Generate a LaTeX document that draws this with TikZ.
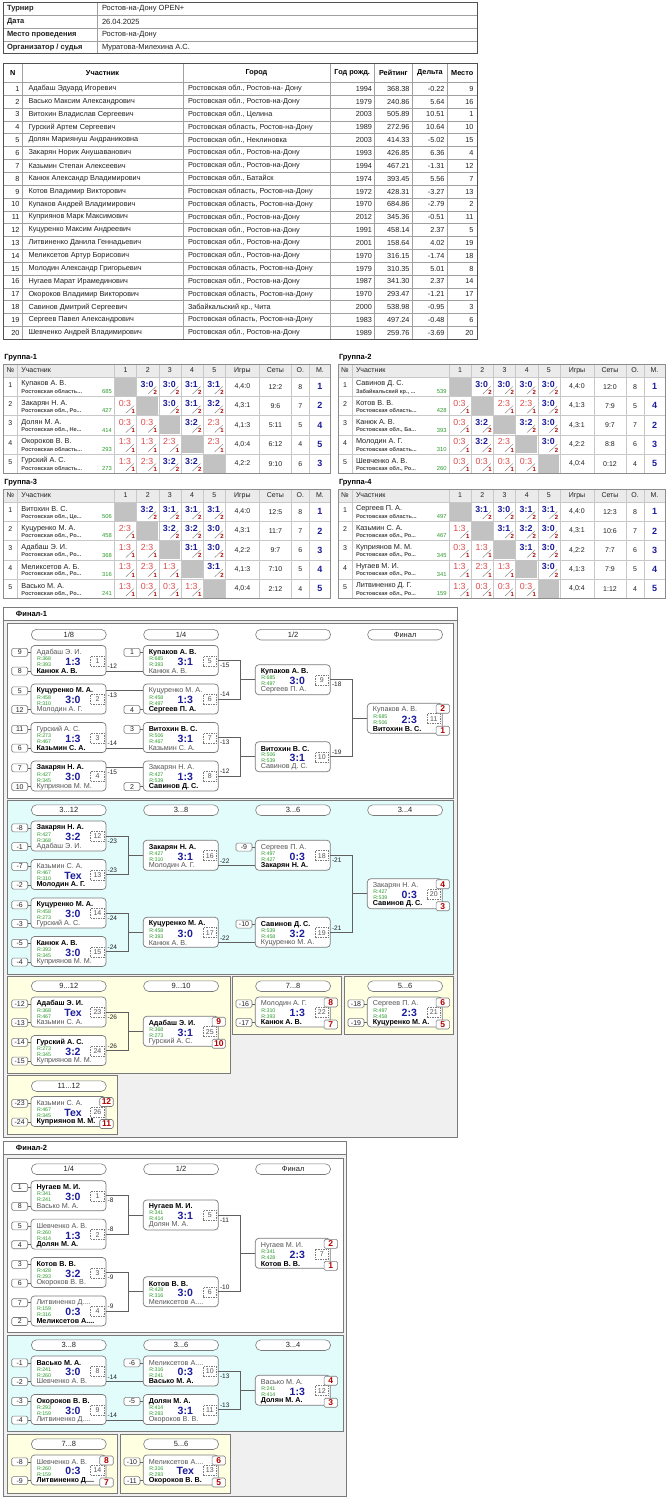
\documentclass[tikz,border=0pt]{standalone}
\usepackage{fontspec}
\setmainfont{Liberation Sans}
\usetikzlibrary{calc}
\definecolor{bord}{HTML}{7A7A7A}
\definecolor{tline}{HTML}{A0A0A0}
\definecolor{touter}{HTML}{505050}
\definecolor{hdrbg}{HTML}{EBEBEB}
\definecolor{gline}{HTML}{C8C8C8}
\definecolor{diag}{HTML}{C2C2C2}
\definecolor{winblue}{HTML}{1C1C9C}
\definecolor{lossred}{HTML}{DD4A4A}
\definecolor{dred}{HTML}{B00000}
\definecolor{rgreen}{HTML}{2A9A2A}
\definecolor{lgray}{HTML}{555555}
\definecolor{tdark}{HTML}{222222}
\definecolor{tcity}{HTML}{4A4A4A}
\definecolor{cyanbg}{HTML}{E2FCFC}
\definecolor{yelbg}{HTML}{FFFFE2}
\definecolor{panelbg}{HTML}{F0F0F0}
\definecolor{connc}{HTML}{606060}
\newcommand\fs[1]{\fontsize{#1}{#1}\selectfont}
\newcommand\Wn[1]{\textbf{#1}}
\newcommand\Ln[1]{\textcolor{lgray}{#1}}
\tikzset{
 txt/.style={inner sep=0pt, outer sep=0pt},
 mbox/.style={draw=bord, fill=white, rounded corners=3.5pt, line width=0.7pt, minimum width=75pt, minimum height=30pt, inner sep=0pt, outer sep=0pt, anchor=north west},
 nbox/.style={draw=bord, dash pattern=on 1.5pt off 1pt, line width=0.6pt, minimum width=13.5pt, minimum height=10pt, inner sep=0pt, font=\fs{7}, text=lgray},
 sbox/.style={draw=bord, fill=white, rounded corners=1.5pt, line width=0.6pt, minimum width=16pt, minimum height=8pt, inner sep=0pt, outer sep=0pt, font=\fs{7}, text=tdark},
 pbox/.style={draw=bord, fill=white, rounded corners=1.5pt, line width=0.6pt, minimum width=13.5pt, minimum height=9pt, inner sep=0pt, font=\bfseries\fs{8.5}, text=dred},
 pillbox/.style={draw=bord, fill=white, rounded corners=5.3pt, line width=0.6pt, minimum width=75pt, minimum height=10.7pt, inner sep=0pt, font=\fs{7.5}, text=tdark, anchor=north west},
 conn/.style={draw=connc, line width=0.8pt},
 lab/.style={inner sep=0pt, anchor=west, font=\fs{6.5}, text=tdark},
 gl/.style={draw=gline, line width=0.5pt},
 slash/.style={draw=gray, line width=0.45pt},
 sec/.style={draw=bord, line width=0.8pt},
}
% match box: id X Y num score topname topR botname botR
\newcommand\mtch[9]{%
 \node[mbox] (#1) at (#2,#3) {};
 \node[txt,anchor=west,font=\fs{7.2},text=black] (#1-tn) at ({#2+5.5},{#3+7}) {#6};
 \node[txt,anchor=west,font=\fs{5.3},text=rgreen] (#1-tr) at ({#2+6},{#3+13.2}) {R:#7};
 \node[txt,anchor=west,font=\fs{5.3},text=rgreen] (#1-br) at ({#2+6},{#3+19.2}) {R:#9};
 \node[txt,anchor=west,font=\fs{7.2},text=black] (#1-bn) at ({#2+5.5},{#3+25.3}) {#8};
 \node[txt,font=\bfseries\fs{10.5},text=winblue] (#1-sc) at ({#2+42},{#3+16.3}) {#5};
 \node[nbox] (#1-no) at ({#2+66.5},{#3+15.5}) {#4};
 \coordinate (#1-tw) at (#2,{#3+6.5});
 \coordinate (#1-bw) at (#2,{#3+25.5});
 \coordinate (#1-te) at ({#2+75},{#3+6.5});
 \coordinate (#1-be) at ({#2+75},{#3+25.5});
}
\newcommand\seedt[2]{\node[sbox] (#1-st) at ($(#1.north west)+(-11.3,6.8)$) {#2};
 \draw[conn,line width=0.6pt] (#1-st.east) -- (#1-st.east -| #1.west);}
\newcommand\seedb[2]{\node[sbox] (#1-sb) at ($(#1.north west)+(-11.3,25.6)$) {#2};
 \draw[conn,line width=0.6pt] (#1-sb.east) -- (#1-sb.east -| #1.west);}
\newcommand\places[3]{\node[pbox] (#1-pt) at ($(#1.north east)+(0.5,5.5)$) {#2};
 \node[pbox] (#1-pb) at ($(#1.north east)+(0.5,27.5)$) {#3};}
\newcommand\pill[4]{\node[pillbox] (#1) at (#2,#3) {#4};}
\newcommand\strb[3]{\draw[conn] (#1-be) -- (#2-bw);
 \node[lab] (#1-lab) at ($(#1-be)+(1.5,-4.5)$) {#3};}
\newcommand\strt[3]{\draw[conn] (#1-te) -- (#2-tw);
 \node[lab] (#1-lab) at ($(#1-te)+(1.5,4.5)$) {#3};}
\newcommand\brk[5]{\draw[conn] (#1.east) -- ++(22,0) coordinate (#1-k) |- (#2.east);
 \draw[conn] (#3.west) -- (#3.west -| #1-k);
 \node[lab] (#1-lab) at ($(#1.east)+(1.5,5)$) {#4};
 \node[lab] (#2-lab) at ($(#2.east)+(1.5,-4.5)$) {#5};}
% group tables
\newcommand\grp[3]{%
 \node[txt,anchor=west,font=\bfseries\fs{7.5}] (g#1title) at ({#2+1},{#3-6.5}) {Группа-#1};
 \fill[hdrbg] (#2,#3) rectangle ({#2+327},{#3+13});
 \foreach \xx in {14,111,133.2,155.4,177.6,199.8,222,256,288,306}
   \draw[gl] ({#2+\xx},#3) -- ({#2+\xx},{#3+109.25});
 \foreach \kk in {0,...,4}
   \draw[gl] (#2,{#3+13+19.25*\kk}) -- ({#2+327},{#3+13+19.25*\kk});
 \draw[draw=gline!70!black, line width=0.6pt] (#2,#3) rectangle ({#2+327},{#3+109.25});
 \node[txt,font=\fs{7},text=tdark] (g#1h0) at ({#2+7},{#3+6.5}) {№};
 \node[txt,anchor=west,font=\fs{7},text=tdark] (g#1h1) at ({#2+18},{#3+6.5}) {Участник};
 \foreach \cc in {1,...,5}
   \node[txt,font=\fs{7},text=tdark] (g#1hc\cc) at ({#2+111+22.2*(\cc-1)+11.1},{#3+6.5}) {\cc};
 \node[txt,font=\fs{7},text=tdark] (g#1h2) at ({#2+239},{#3+6.5}) {Игры};
 \node[txt,font=\fs{7},text=tdark] (g#1h3) at ({#2+272},{#3+6.5}) {Сеты};
 \node[txt,font=\fs{7},text=tdark] (g#1h4) at ({#2+297},{#3+6.5}) {О.};
 \node[txt,font=\fs{7},text=tdark] (g#1h5) at ({#2+316.5},{#3+6.5}) {М.};
}
\newcommand\setrow[3]{\def\GX{#1}\def\GY{#2}\def\GN{#3}}
\newcommand\grow[8]{%
 \node[txt,font=\fs{7},text=tdark] (\GN n) at ({\GX+7},{\GY+8}) {#1};
 \node[txt,anchor=west,font=\fs{7.3},text=tdark] (\GN name) at ({\GX+18},{\GY+7}) {#2};
 \node[txt,anchor=west,font=\bfseries\fs{5.6},text=tcity] (\GN city) at ({\GX+18},{\GY+14.5}) {#3};
 \node[txt,anchor=east,font=\fs{5.8},text=rgreen] (\GN rat) at ({\GX+108.5},{\GY+14.5}) {#4};
 \node[txt,font=\fs{7},text=tdark] (\GN games) at ({\GX+239},{\GY+9.6}) {#5};
 \node[txt,font=\fs{7},text=tdark] (\GN sets) at ({\GX+272},{\GY+9.6}) {#6};
 \node[txt,font=\fs{7},text=tdark] (\GN pts) at ({\GX+297},{\GY+9.6}) {#7};
 \node[txt,font=\bfseries\fs{9},text=winblue] (\GN pl) at ({\GX+316.5},{\GY+9.6}) {#8};
}
\newcommand\gw[2]{%
 \node[txt,font=\bfseries\fs{8.8},text=winblue] (\GN c#1s) at ({\GX+111+22.2*(#1-1)+10.5},{\GY+7}) {#2};
 \draw[slash] ({\GX+111+22.2*(#1-1)+11.5},{\GY+17}) -- ({\GX+111+22.2*(#1-1)+19.5},{\GY+9.5});
 \node[txt,font=\bfseries\fs{6},text=dred] (\GN c#1d) at ({\GX+111+22.2*(#1-1)+18.8},{\GY+15.3}) {2};}
\newcommand\gl[2]{%
 \node[txt,font=\fs{8.8},text=lossred] (\GN c#1s) at ({\GX+111+22.2*(#1-1)+10.5},{\GY+7}) {#2};
 \draw[slash] ({\GX+111+22.2*(#1-1)+11.5},{\GY+17}) -- ({\GX+111+22.2*(#1-1)+19.5},{\GY+9.5});
 \node[txt,font=\bfseries\fs{6},text=dred] (\GN c#1d) at ({\GX+111+22.2*(#1-1)+18.8},{\GY+15.3}) {1};}
\newcommand\gd[1]{\fill[diag] ({\GX+111+22.2*(#1-1)+0.7},{\GY+0.7}) rectangle ({\GX+111+22.2*#1-0.7},{\GY+18.55});}
% participants
\newcommand\prow[7]{%
 \pgfmathsetmacro\py{82.3+12.85*(#1-0.5)}
 \node[txt,anchor=east,font=\fs{7.3},text=tdark] (p#1n) at (19.5,\py) {#1};
 \node[txt,anchor=west,font=\fs{7.3},text=tdark] (p#1name) at (28.5,\py) {#2};
 \node[txt,anchor=west,font=\fs{7.3},text=tdark] (p#1city) at (188,\py) {#3};
 \node[txt,anchor=east,font=\fs{7.3},text=tdark] (p#1year) at (372,\py) {#4};
 \node[txt,anchor=east,font=\fs{7.3},text=tdark] (p#1rat) at (409.5,\py) {#5};
 \node[txt,anchor=east,font=\fs{7.3},text=tdark] (p#1del) at (444.5,\py) {#6};
 \node[txt,anchor=east,font=\fs{7.3},text=tdark] (p#1pl) at (473.5,\py) {#7};
}
\newcommand\hrow[3]{%
 \pgfmathsetmacro\hy{2.5+12.8*(#1-0.5)}
 \node[txt,anchor=west,font=\bfseries\fs{7.5},text=tdark] (h#1a) at (7,\hy) {#2};
 \node[txt,anchor=west,font=\fs{7.5},text=tdark] (h#1b) at (102,\hy) {#3};
}
\begin{document}
\begin{tikzpicture}[x=1pt,y=-1pt]
\useasboundingbox (0,0) rectangle (670,1500);
\fill[white] (0,0) rectangle (670,1500);
% ---------- header table
\foreach \kk in {1,2,3} \draw[draw=tline,line width=0.6pt] (3.4,{2.5+12.8*\kk}) -- (477,{2.5+12.8*\kk});
\draw[draw=tline,line width=0.6pt] (97.4,2.5) -- (97.4,53.7);
\draw[draw=touter,line width=0.9pt] (3.4,2.5) rectangle (477,53.7);
\hrow{1}{Турнир}{Ростов-на-Дону OPEN+}
\hrow{2}{Дата}{26.04.2025}
\hrow{3}{Место проведения}{Ростов-на-Дону}
\hrow{4}{Организатор / судья}{Муратова-Милехина А.С.}
% ---------- participants table
\foreach \xx in {22.2,182.9,329.9,374.4,412.4,447.4} \draw[draw=tline,line width=0.6pt] (\xx,63.3) -- (\xx,339.3);
\foreach \kk in {0,...,19} \draw[draw=tline,line width=0.6pt] (3.4,{82.3+12.85*\kk}) -- (477,{82.3+12.85*\kk});
\draw[draw=touter,line width=0.9pt] (3.4,63.3) rectangle (477,339.3);
\node[txt,font=\bfseries\fs{7.3}] (ph1) at (12.8,72.8) {N};
\node[txt,font=\bfseries\fs{7.3}] (ph2) at (102.5,72.8) {Участник};
\node[txt,font=\bfseries\fs{7.3}] (ph3) at (256.4,72.8) {Город};
\node[txt,font=\bfseries\fs{7.3}] (ph4) at (352.2,72.8) {Год рожд.};
\node[txt,font=\bfseries\fs{7.3}] (ph5) at (393.4,72.8) {Рейтинг};
\node[txt,font=\bfseries\fs{7.3}] (ph6) at (429.9,72.8) {Дельта};
\node[txt,font=\bfseries\fs{7.3}] (ph7) at (462.2,72.8) {Место};
\prow{1}{Адабаш Эдуард Игоревич}{Ростовская обл., Ростов-на- Дону}{1994}{368.38}{-0.22}{9}
\prow{2}{Васько Максим Александрович}{Ростовская обл., Ростов-на-Дону}{1979}{240.86}{5.64}{16}
\prow{3}{Витохин Владислав Сергеевич}{Ростовская обл., Целина}{2003}{505.89}{10.51}{1}
\prow{4}{Гурский Артем Сергеевич}{Ростовская область, Ростов-на-Дону}{1989}{272.96}{10.64}{10}
\prow{5}{Долян Мариянуш Андраниковна}{Ростовская обл., Неклиновка}{2003}{414.33}{-5.02}{15}
\prow{6}{Закарян Норик Анушаванович}{Ростовская обл., Ростов-на-Дону}{1993}{426.85}{6.36}{4}
\prow{7}{Казьмин Степан Алексеевич}{Ростовская обл., Ростов-на-Дону}{1994}{467.21}{-1.31}{12}
\prow{8}{Канюк Александр Владимирович}{Ростовская обл., Батайск}{1974}{393.45}{5.56}{7}
\prow{9}{Котов Владимир Викторович}{Ростовская область, Ростов-на-Дону}{1972}{428.31}{-3.27}{13}
\prow{10}{Купаков Андрей Владимирович}{Ростовская область, Ростов-на-Дону}{1970}{684.86}{-2.79}{2}
\prow{11}{Куприянов Марк Максимович}{Ростовская обл., Ростов-на-Дону}{2012}{345.36}{-0.51}{11}
\prow{12}{Куцуренко Максим Андреевич}{Ростовская обл., Ростов-на-Дону}{1991}{458.14}{2.37}{5}
\prow{13}{Литвиненко Данила Геннадьевич}{Ростовская обл., Ростов-на-Дону}{2001}{158.64}{4.02}{19}
\prow{14}{Меликсетов Артур Борисович}{Ростовская обл., Ростов-на-Дону}{1970}{316.15}{-1.74}{18}
\prow{15}{Молодин Александр Григорьевич}{Ростовская область, Ростов-на-Дону}{1979}{310.35}{5.01}{8}
\prow{16}{Нугаев Марат Ирамединович}{Ростовская обл., Ростов-на-Дону}{1987}{341.30}{2.37}{14}
\prow{17}{Окороков Владимир Викторович}{Ростовская область, Ростов-на-Дону}{1970}{293.47}{-1.21}{17}
\prow{18}{Савинов Дмитрий Сергеевич}{Забайкальский кр., Чита}{2000}{538.98}{-0.95}{3}
\prow{19}{Сергеев Павел Александрович}{Ростовская область, Ростов-на-Дону}{1983}{497.24}{-0.48}{6}
\prow{20}{Шевченко Андрей Владимирович}{Ростовская обл., Ростов-на-Дону}{1989}{259.76}{-3.69}{20}
% ---------- groups
\grp{1}{3.4}{364}
\setrow{3.4}{377}{g1r1}\grow{1}{Купаков А. В.}{Ростовская область...}{685}{4,4:0}{12:2}{8}{1}\gd{1}\gw{2}{3:0}\gw{3}{3:0}\gw{4}{3:1}\gw{5}{3:1}
\setrow{3.4}{396.25}{g1r2}\grow{2}{Закарян Н. А.}{Ростовская обл., Ро...}{427}{4,3:1}{9:6}{7}{2}\gl{1}{0:3}\gd{2}\gw{3}{3:0}\gw{4}{3:1}\gw{5}{3:2}
\setrow{3.4}{415.5}{g1r3}\grow{3}{Долян М. А.}{Ростовская обл., Не...}{414}{4,1:3}{5:11}{5}{4}\gl{1}{0:3}\gl{2}{0:3}\gd{3}\gw{4}{3:2}\gl{5}{2:3}
\setrow{3.4}{434.75}{g1r4}\grow{4}{Окороков В. В.}{Ростовская область...}{293}{4,0:4}{6:12}{4}{5}\gl{1}{1:3}\gl{2}{1:3}\gl{3}{2:3}\gd{4}\gl{5}{2:3}
\setrow{3.4}{454}{g1r5}\grow{5}{Гурский А. С.}{Ростовская область...}{273}{4,2:2}{9:10}{6}{3}\gl{1}{1:3}\gl{2}{2:3}\gw{3}{3:2}\gw{4}{3:2}\gd{5}
\grp{2}{338}{364}
\setrow{338}{377}{g2r1}\grow{1}{Савинов Д. С.}{Забайкальский кр., ...}{539}{4,4:0}{12:0}{8}{1}\gd{1}\gw{2}{3:0}\gw{3}{3:0}\gw{4}{3:0}\gw{5}{3:0}
\setrow{338}{396.25}{g2r2}\grow{2}{Котов В. В.}{Ростовская область...}{428}{4,1:3}{7:9}{5}{4}\gl{1}{0:3}\gd{2}\gl{3}{2:3}\gl{4}{2:3}\gw{5}{3:0}
\setrow{338}{415.5}{g2r3}\grow{3}{Канюк А. В.}{Ростовская обл., Ба...}{393}{4,3:1}{9:7}{7}{2}\gl{1}{0:3}\gw{2}{3:2}\gd{3}\gw{4}{3:2}\gw{5}{3:0}
\setrow{338}{434.75}{g2r4}\grow{4}{Молодин А. Г.}{Ростовская область...}{310}{4,2:2}{8:8}{6}{3}\gl{1}{0:3}\gw{2}{3:2}\gl{3}{2:3}\gd{4}\gw{5}{3:0}
\setrow{338}{454}{g2r5}\grow{5}{Шевченко А. В.}{Ростовская обл., Ро...}{260}{4,0:4}{0:12}{4}{5}\gl{1}{0:3}\gl{2}{0:3}\gl{3}{0:3}\gl{4}{0:3}\gd{5}
\grp{3}{3.4}{489}
\setrow{3.4}{502}{g3r1}\grow{1}{Витохин В. С.}{Ростовская обл., Це...}{506}{4,4:0}{12:5}{8}{1}\gd{1}\gw{2}{3:2}\gw{3}{3:1}\gw{4}{3:1}\gw{5}{3:1}
\setrow{3.4}{521.25}{g3r2}\grow{2}{Куцуренко М. А.}{Ростовская обл., Ро...}{458}{4,3:1}{11:7}{7}{2}\gl{1}{2:3}\gd{2}\gw{3}{3:2}\gw{4}{3:2}\gw{5}{3:0}
\setrow{3.4}{540.5}{g3r3}\grow{3}{Адабаш Э. И.}{Ростовская обл., Ро...}{368}{4,2:2}{9:7}{6}{3}\gl{1}{1:3}\gl{2}{2:3}\gd{3}\gw{4}{3:1}\gw{5}{3:0}
\setrow{3.4}{559.75}{g3r4}\grow{4}{Меликсетов А. Б.}{Ростовская обл., Ро...}{316}{4,1:3}{7:10}{5}{4}\gl{1}{1:3}\gl{2}{2:3}\gl{3}{1:3}\gd{4}\gw{5}{3:1}
\setrow{3.4}{579}{g3r5}\grow{5}{Васько М. А.}{Ростовская обл., Ро...}{241}{4,0:4}{2:12}{4}{5}\gl{1}{1:3}\gl{2}{0:3}\gl{3}{0:3}\gl{4}{1:3}\gd{5}
\grp{4}{338}{489}
\setrow{338}{502}{g4r1}\grow{1}{Сергеев П. А.}{Ростовская область...}{497}{4,4:0}{12:3}{8}{1}\gd{1}\gw{2}{3:1}\gw{3}{3:0}\gw{4}{3:1}\gw{5}{3:1}
\setrow{338}{521.25}{g4r2}\grow{2}{Казьмин С. А.}{Ростовская обл., Ро...}{467}{4,3:1}{10:6}{7}{2}\gl{1}{1:3}\gd{2}\gw{3}{3:1}\gw{4}{3:2}\gw{5}{3:0}
\setrow{338}{540.5}{g4r3}\grow{3}{Куприянов М. М.}{Ростовская обл., Ро...}{345}{4,2:2}{7:7}{6}{3}\gl{1}{0:3}\gl{2}{1:3}\gd{3}\gw{4}{3:1}\gw{5}{3:0}
\setrow{338}{559.75}{g4r4}\grow{4}{Нугаев М. И.}{Ростовская обл., Ро...}{341}{4,1:3}{7:9}{5}{4}\gl{1}{1:3}\gl{2}{2:3}\gl{3}{1:3}\gd{4}\gw{5}{3:0}
\setrow{338}{579}{g4r5}\grow{5}{Литвиненко Д. Г.}{Ростовская обл., Ро...}{159}{4,0:4}{1:12}{4}{5}\gl{1}{1:3}\gl{2}{0:3}\gl{3}{0:3}\gl{4}{0:3}\gd{5}
% ---------- Final-1 frames
\draw[sec,fill=panelbg] (3,607) rectangle (457,1137);
\draw[sec,fill=white] (3,607) rectangle (457,620.5);
\node[txt,anchor=west,font=\bfseries\fs{7.5}] (f1title) at (16,613.8) {Финал-1};
\draw[sec,fill=white] (7.3,623.7) rectangle (453.5,798);
\draw[sec,fill=cyanbg] (7.3,800.7) rectangle (453.5,974);
\draw[sec,fill=yelbg] (7.3,976.3) rectangle (230,1073);
\draw[sec,fill=yelbg] (232.3,976.3) rectangle (341.7,1034.7);
\draw[sec,fill=yelbg] (344.3,976.3) rectangle (453.5,1034.7);
\draw[sec,fill=yelbg] (7.3,1075.3) rectangle (117.7,1134.7);
% section 1
\pill{fap1}{31}{629}{1/8}\pill{fap2}{143.3}{629}{1/4}\pill{fap3}{255.3}{629}{1/2}\pill{fap4}{367.3}{629}{Финал}
\mtch{fa1}{31}{645.5}{1}{1:3}{\Ln{Адабаш Э. И.}}{368}{\Wn{Канюк А. В.}}{393}
\mtch{fa2}{31}{684}{2}{3:0}{\Wn{Куцуренко М. А.}}{458}{\Ln{Молодин А. Г.}}{310}
\mtch{fa3}{31}{722.5}{3}{1:3}{\Ln{Гурский А. С.}}{273}{\Wn{Казьмин С. А.}}{467}
\mtch{fa4}{31}{761}{4}{3:0}{\Wn{Закарян Н. А.}}{427}{\Ln{Куприянов М. М.}}{345}
\mtch{fa5}{143.3}{645.5}{5}{3:1}{\Wn{Купаков А. В.}}{685}{\Ln{Канюк А. В.}}{393}
\mtch{fa6}{143.3}{684}{6}{1:3}{\Ln{Куцуренко М. А.}}{458}{\Wn{Сергеев П. А.}}{497}
\mtch{fa7}{143.3}{722.5}{7}{3:1}{\Wn{Витохин В. С.}}{506}{\Ln{Казьмин С. А.}}{467}
\mtch{fa8}{143.3}{761}{8}{1:3}{\Ln{Закарян Н. А.}}{427}{\Wn{Савинов Д. С.}}{539}
\mtch{fa9}{255.3}{664.75}{9}{3:0}{\Wn{Купаков А. В.}}{685}{\Ln{Сергеев П. А.}}{497}
\mtch{fa10}{255.3}{741.75}{10}{3:1}{\Wn{Витохин В. С.}}{506}{\Ln{Савинов Д. С.}}{539}
\mtch{fa11}{367.3}{703.25}{11}{2:3}{\Ln{Купаков А. В.}}{685}{\Wn{Витохин В. С.}}{506}
\places{fa11}{2}{1}
\seedt{fa1}{9}\seedb{fa1}{8}\seedt{fa2}{5}\seedb{fa2}{12}\seedt{fa3}{11}\seedb{fa3}{6}\seedt{fa4}{7}\seedb{fa4}{10}
\seedt{fa5}{1}\seedb{fa6}{4}\seedt{fa7}{3}\seedb{fa8}{2}
\strb{fa1}{fa5}{-12}\strt{fa2}{fa6}{-13}\strb{fa3}{fa7}{-14}\strt{fa4}{fa8}{-15}
\brk{fa5}{fa6}{fa9}{-15}{-14}
\brk{fa7}{fa8}{fa10}{-13}{-12}
\brk{fa9}{fa10}{fa11}{-18}{-19}
% section 2
\pill{fbp1}{31}{804.5}{3...12}\pill{fbp2}{143.3}{804.5}{3...8}\pill{fbp3}{255.3}{804.5}{3...6}\pill{fbp4}{367.3}{804.5}{3...4}
\mtch{fb12}{31}{821}{12}{3:2}{\Wn{Закарян Н. А.}}{427}{\Ln{Адабаш Э. И.}}{368}
\mtch{fb13}{31}{859.5}{13}{Тех}{\Ln{Казьмин С. А.}}{467}{\Wn{Молодин А. Г.}}{310}
\mtch{fb14}{31}{898}{14}{3:0}{\Wn{Куцуренко М. А.}}{458}{\Ln{Гурский А. С.}}{273}
\mtch{fb15}{31}{936.5}{15}{3:0}{\Wn{Канюк А. В.}}{393}{\Ln{Куприянов М. М.}}{345}
\mtch{fb16}{143.3}{840.25}{16}{3:1}{\Wn{Закарян Н. А.}}{427}{\Ln{Молодин А. Г.}}{310}
\mtch{fb17}{143.3}{917.25}{17}{3:0}{\Wn{Куцуренко М. А.}}{458}{\Ln{Канюк А. В.}}{393}
\mtch{fb18}{255.3}{840.25}{18}{0:3}{\Ln{Сергеев П. А.}}{497}{\Wn{Закарян Н. А.}}{427}
\mtch{fb19}{255.3}{917.25}{19}{3:2}{\Wn{Савинов Д. С.}}{539}{\Ln{Куцуренко М. А.}}{458}
\mtch{fb20}{367.3}{878.75}{20}{0:3}{\Ln{Закарян Н. А.}}{427}{\Wn{Савинов Д. С.}}{539}
\places{fb20}{4}{3}
\seedt{fb12}{-8}\seedb{fb12}{-1}\seedt{fb13}{-7}\seedb{fb13}{-2}\seedt{fb14}{-6}\seedb{fb14}{-3}\seedt{fb15}{-5}\seedb{fb15}{-4}
\seedt{fb18}{-9}\seedt{fb19}{-10}
\brk{fb12}{fb13}{fb16}{-23}{-23}
\brk{fb14}{fb15}{fb17}{-24}{-24}
\strb{fb16}{fb18}{-22}\strb{fb17}{fb19}{-22}
\brk{fb18}{fb19}{fb20}{-21}{-21}
% section 3
\pill{fcp1}{31}{980.5}{9...12}\pill{fcp2}{143.3}{980.5}{9...10}\pill{fcp3}{255.3}{980.5}{7...8}\pill{fcp4}{367.3}{980.5}{5...6}
\pill{fcp5}{31}{1080.5}{11...12}
\mtch{fc23}{31}{997}{23}{Тех}{\Wn{Адабаш Э. И.}}{368}{\Ln{Казьмин С. А.}}{467}
\mtch{fc24}{31}{1035.5}{24}{3:2}{\Wn{Гурский А. С.}}{273}{\Ln{Куприянов М. М.}}{345}
\mtch{fc25}{143.3}{1016.25}{25}{3:1}{\Wn{Адабаш Э. И.}}{368}{\Ln{Гурский А. С.}}{273}
\places{fc25}{9}{10}
\mtch{fc22}{255.3}{997}{22}{1:3}{\Ln{Молодин А. Г.}}{310}{\Wn{Канюк А. В.}}{393}
\places{fc22}{8}{7}
\mtch{fc21}{367.3}{997}{21}{2:3}{\Ln{Сергеев П. А.}}{497}{\Wn{Куцуренко М. А.}}{458}
\places{fc21}{6}{5}
\mtch{fc26}{31}{1096.5}{26}{Тех}{\Ln{Казьмин С. А.}}{467}{\Wn{Куприянов М. М.}}{345}
\places{fc26}{12}{11}
\seedt{fc23}{-12}\seedb{fc23}{-13}\seedt{fc24}{-14}\seedb{fc24}{-15}
\seedt{fc22}{-16}\seedb{fc22}{-17}\seedt{fc21}{-18}\seedb{fc21}{-19}\seedt{fc26}{-23}\seedb{fc26}{-24}
\brk{fc23}{fc24}{fc25}{-26}{-26}
% ---------- Final-2 frames
\draw[sec,fill=panelbg] (3,1141.7) rectangle (346.7,1496.7);
\draw[sec,fill=white] (3,1141.7) rectangle (346.7,1154.3);
\node[txt,anchor=west,font=\bfseries\fs{7.5}] (f2title) at (16,1148) {Финал-2};
\draw[sec,fill=white] (7.3,1158.3) rectangle (343,1332.7);
\draw[sec,fill=cyanbg] (7.3,1335) rectangle (343,1431);
\draw[sec,fill=yelbg] (7.3,1434.3) rectangle (117.7,1493.3);
\draw[sec,fill=yelbg] (120.3,1434.3) rectangle (230,1493.3);
% section 1
\pill{gap1}{31}{1163.5}{1/4}\pill{gap2}{143.3}{1163.5}{1/2}\pill{gap3}{255.3}{1163.5}{Финал}
\mtch{ga1}{31}{1180.7}{1}{3:0}{\Wn{Нугаев М. И.}}{341}{\Ln{Васько М. А.}}{241}
\mtch{ga2}{31}{1219.1}{2}{1:3}{\Ln{Шевченко А. В.}}{260}{\Wn{Долян М. А.}}{414}
\mtch{ga3}{31}{1257.5}{3}{3:2}{\Wn{Котов В. В.}}{428}{\Ln{Окороков В. В.}}{293}
\mtch{ga4}{31}{1295.9}{4}{0:3}{\Ln{Литвиненко Д....}}{159}{\Wn{Меликсетов А....}}{316}
\mtch{ga5}{143.3}{1199.9}{5}{3:1}{\Wn{Нугаев М. И.}}{341}{\Ln{Долян М. А.}}{414}
\mtch{ga6}{143.3}{1276.7}{6}{3:0}{\Wn{Котов В. В.}}{428}{\Ln{Меликсетов А....}}{316}
\mtch{ga7}{255.3}{1238.3}{7}{2:3}{\Ln{Нугаев М. И.}}{341}{\Wn{Котов В. В.}}{428}
\places{ga7}{2}{1}
\seedt{ga1}{1}\seedb{ga1}{8}\seedt{ga2}{5}\seedb{ga2}{4}\seedt{ga3}{3}\seedb{ga3}{6}\seedt{ga4}{7}\seedb{ga4}{2}
\brk{ga1}{ga2}{ga5}{-8}{-8}
\brk{ga3}{ga4}{ga6}{-9}{-9}
\brk{ga5}{ga6}{ga7}{-11}{-10}
% section 2
\pill{gbp1}{31}{1339.5}{3...8}\pill{gbp2}{143.3}{1339.5}{3...6}\pill{gbp3}{255.3}{1339.5}{3...4}
\mtch{gb8}{31}{1356}{8}{3:0}{\Wn{Васько М. А.}}{241}{\Ln{Шевченко А. В.}}{260}
\mtch{gb9}{31}{1394.5}{9}{3:0}{\Wn{Окороков В. В.}}{293}{\Ln{Литвиненко Д....}}{159}
\mtch{gb10}{143.3}{1356}{10}{0:3}{\Ln{Меликсетов А....}}{316}{\Wn{Васько М. А.}}{241}
\mtch{gb11}{143.3}{1394.5}{11}{3:1}{\Wn{Долян М. А.}}{414}{\Ln{Окороков В. В.}}{293}
\mtch{gb12}{255.3}{1375.25}{12}{1:3}{\Ln{Васько М. А.}}{241}{\Wn{Долян М. А.}}{414}
\places{gb12}{4}{3}
\seedt{gb8}{-1}\seedb{gb8}{-2}\seedt{gb9}{-3}\seedb{gb9}{-4}\seedt{gb10}{-6}\seedt{gb11}{-5}
\strb{gb8}{gb10}{-14}\strb{gb9}{gb11}{-14}
\brk{gb10}{gb11}{gb12}{-13}{-13}
% section 3
\pill{gcp1}{31}{1438.5}{7...8}\pill{gcp2}{143.3}{1438.5}{5...6}
\mtch{gc14}{31}{1455}{14}{0:3}{\Ln{Шевченко А. В.}}{260}{\Wn{Литвиненко Д....}}{159}
\places{gc14}{8}{7}
\mtch{gc13}{143.3}{1455}{13}{Тех}{\Ln{Меликсетов А....}}{316}{\Wn{Окороков В. В.}}{293}
\places{gc13}{6}{5}
\seedt{gc14}{-8}\seedb{gc14}{-9}\seedt{gc13}{-10}\seedb{gc13}{-11}
\end{tikzpicture}
\end{document}
